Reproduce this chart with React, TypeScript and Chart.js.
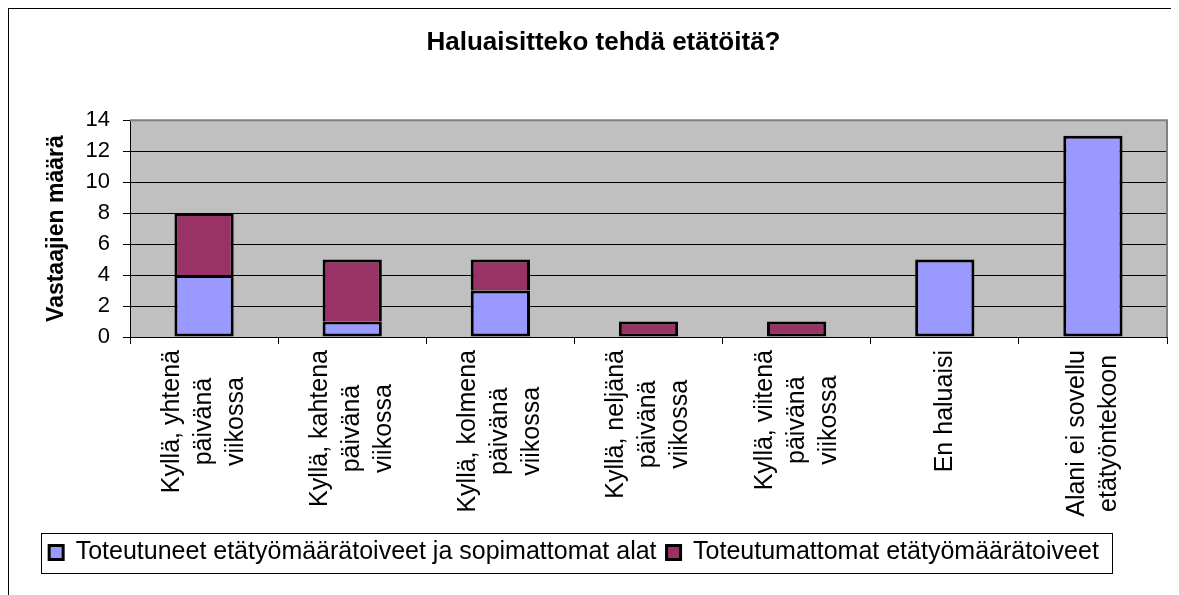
import React, { useEffect, useRef } from "react";
import { Chart, registerables } from "chart.js";

Chart.register(...registerables);

const TITLE = "Haluaisitteko tehdä etätöitä?";
const Y_TITLE = "Vastaajien määrä";
const CATEGORIES: string[][] = [
  ["Kyllä, yhtenä", "päivänä", "viikossa"],
  ["Kyllä, kahtena", "päivänä", "viikossa"],
  ["Kyllä, kolmena", "päivänä", "viikossa"],
  ["Kyllä, neljänä", "päivänä", "viikossa"],
  ["Kyllä, viitenä", "päivänä", "viikossa"],
  ["En haluaisi"],
  ["Alani ei sovellu", "etätyöntekoon"],
];
const SERIES_NAMES = [
  "Toteutuneet etätyömäärätoiveet ja sopimattomat alat",
  "Toteutumattomat etätyömäärätoiveet",
];
const REALIZED = [4, 1, 3, 0, 0, 5, 13];
const UNREALIZED = [4, 4, 2, 1, 1, 0, 0];
const Y_TICKS = [0, 2, 4, 6, 8, 10, 12, 14];

const FONT = "'Liberation Sans', Arial, Helvetica, sans-serif";
const LABEL_FONT_SIZE = 25;
const LABEL_LINE_GAP = 32;
const LEGEND_PAD = 10;
const LEGEND_FONT = 25;

const framePlugin = {
  id: "excelFrame",
  afterLayout(chart: any) {
    const lg = chart.legend;
    if (lg && lg.legendHitBoxes && lg.legendHitBoxes.length) {
      const hb = lg.legendHitBoxes;
      const sumW = hb.reduce((s: number, h: any) => s + h.width, 0);
      const lineW = sumW + LEGEND_PAD * hb.length;
      const start = (lg.left + LEGEND_PAD + lg.right - lineW) / 2;
      const center = start + (sumW + LEGEND_PAD * (hb.length - 1)) / 2;
      const d = 566 - center;
      lg.left += d;
      lg.right += d;
    }
    const t = chart.titleBlock;
    if (t) {
      t.left += 16;
      t.right += 16;
    }
  },
  beforeDraw(chart: any) {
    const { ctx, width, height, chartArea: a } = chart;
    ctx.save();
    ctx.fillStyle = "#ffffff";
    ctx.fillRect(0, 0, width, height);
    ctx.fillStyle = "#C0C0C0";
    ctx.fillRect(a.left, a.top, a.right - a.left, a.bottom - a.top);
    ctx.strokeStyle = "#000000";
    ctx.lineWidth = 1;
    ctx.strokeRect(0.5, 0.5, width - 1, height + 10);
    ctx.restore();
  },
  beforeDatasetsDraw(chart: any) {
    const { ctx, chartArea: a } = chart;
    ctx.save();
    ctx.strokeStyle = "#808080";
    ctx.lineWidth = 2;
    ctx.beginPath();
    ctx.moveTo(a.left, a.top);
    ctx.lineTo(a.right, a.top);
    ctx.lineTo(a.right, a.bottom);
    ctx.stroke();
    ctx.restore();
  },
  afterDraw(chart: any) {
    const { ctx } = chart;
    const xs = chart.scales.x;
    ctx.save();
    ctx.font = `${LABEL_FONT_SIZE}px ${FONT}`;
    ctx.fillStyle = "#000000";
    ctx.textAlign = "center";
    ctx.textBaseline = "middle";
    const labelTop = xs.top + 13;
    CATEGORIES.forEach((lines, i) => {
      const cx = xs.getPixelForValue(i);
      const w = Math.max(...lines.map((l) => ctx.measureText(l).width));
      const cy = labelTop + w / 2;
      ctx.save();
      ctx.translate(cx, cy);
      ctx.rotate(-Math.PI / 2);
      lines.forEach((l, j) => {
        ctx.fillText(l, 0, (j - (lines.length - 1) / 2) * LABEL_LINE_GAP);
      });
      ctx.restore();
    });
    const lg = chart.legend;
    if (lg && lg.legendHitBoxes && lg.legendHitBoxes.length) {
      const hb = lg.legendHitBoxes;
      const last = hb[hb.length - 1];
      const l = hb[0].left - 8;
      const r = last.left + last.width + 13;
      const cy = lg.top + LEGEND_PAD + LEGEND_FONT / 2;
      ctx.strokeStyle = "#000000";
      ctx.lineWidth = 1;
      ctx.strokeRect(Math.round(l) + 0.5, Math.round(cy - 20) + 0.5, Math.round(r - l), 40);
    }
    ctx.restore();
  },
};

export default function App() {
  const ref = useRef<HTMLCanvasElement | null>(null);

  useEffect(() => {
    if (!ref.current) return;
    const chart = new Chart(ref.current, {
      type: "bar",
      data: {
        labels: CATEGORIES,
        datasets: [
          {
            label: SERIES_NAMES[0],
            data: REALIZED,
            backgroundColor: "#9999FF",
            borderColor: "#000000",
            borderWidth: 3,
            borderSkipped: false,
            barPercentage: 0.5,
            categoryPercentage: 0.8,
          },
          {
            label: SERIES_NAMES[1],
            data: UNREALIZED,
            backgroundColor: "#993366",
            borderColor: "#000000",
            borderWidth: 3,
            borderSkipped: (c: any) => (REALIZED[c.dataIndex] > 0 ? "bottom" : false),
            barPercentage: 0.5,
            categoryPercentage: 0.8,
          },
        ],
      },
      options: {
        responsive: false,
        animation: false,
        devicePixelRatio: 1,
        layout: { padding: { left: 0, right: 11, top: 0, bottom: 20 } },
        plugins: {
          tooltip: { enabled: false },
          title: {
            display: true,
            text: TITLE,
            color: "#000000",
            font: { family: FONT, size: 26, weight: "bold" },
            padding: { top: 19, bottom: 62 },
          },
          legend: {
            position: "bottom",
            labels: {
              color: "#000000",
              font: { family: FONT, size: LEGEND_FONT },
              boxWidth: 14,
              boxHeight: 14,
              padding: LEGEND_PAD,
            },
          },
        },
        scales: {
          x: {
            stacked: true,
            ticks: { display: false },
            grid: { drawOnChartArea: false, color: "#000000", tickLength: 7, offset: true },
            border: { color: "#000000", width: 1 },
            afterFit: (s: any) => {
              s.height = 193;
            },
          },
          y: {
            stacked: true,
            min: 0,
            max: 14,
            afterBuildTicks: (s: any) => {
              s.ticks = Y_TICKS.map((v) => ({ value: v }));
            },
            ticks: {
              color: "#000000",
              font: { family: FONT, size: 22 },
              padding: 13,
            },
            grid: { color: "#000000", tickLength: 7 },
            border: { color: "#000000", width: 1 },
            title: {
              display: true,
              text: Y_TITLE,
              color: "#000000",
              font: { family: FONT, size: 23, weight: "bold" },
              padding: { top: 35, bottom: 0 },
            },
            afterFit: (s: any) => {
              s.width = 122;
            },
          },
        },
      },
      plugins: [framePlugin],
    } as any);
    return () => chart.destroy();
  }, []);

  return (
    <div style={{ width: 1170, height: 587 }}>
      <canvas ref={ref} width={1170} height={587} style={{ display: "block" }} />
    </div>
  );
}
